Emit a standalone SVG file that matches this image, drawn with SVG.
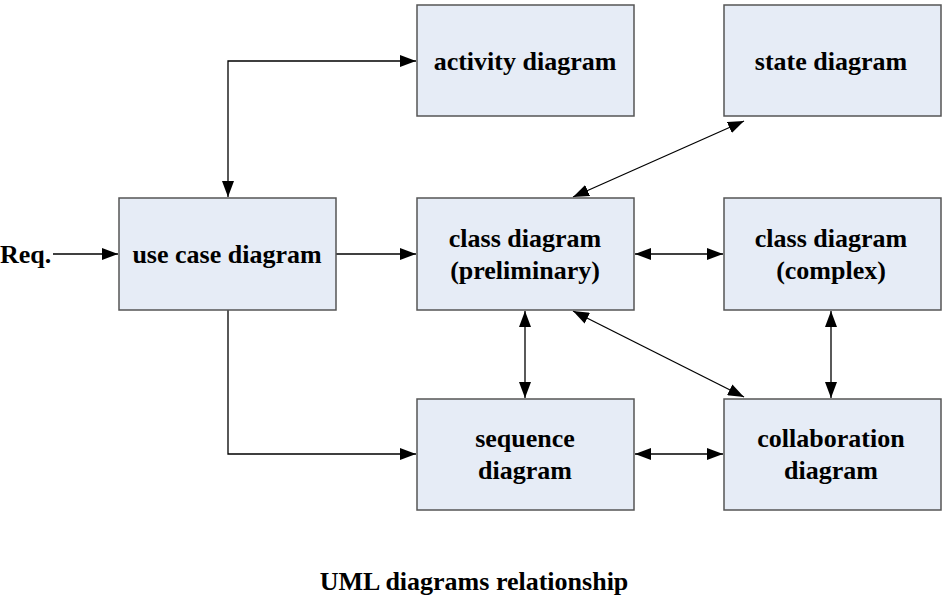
<svg xmlns="http://www.w3.org/2000/svg" width="944" height="596" viewBox="0 0 944 596">
<style>
.box{fill:#E6ECF6;stroke:#555;stroke-width:1.5}
.t{font-family:"Liberation Serif","Times New Roman",serif;font-weight:bold;font-size:26px;fill:#000;text-anchor:middle}
.c{fill:none;stroke:#000;stroke-width:1.3}
</style>
<defs>
<marker id="ah" viewBox="0 0 16 12" refX="16" refY="6" markerWidth="16" markerHeight="12" markerUnits="userSpaceOnUse" orient="auto-start-reverse">
<path d="M0,0 L16,6 L0,12 z" fill="#000"/>
</marker>
</defs>
<rect width="944" height="596" fill="#fff"/>
<g id="connectors">
<line class="c" x1="53" y1="254" x2="118" y2="254" marker-end="url(#ah)"/>
<polyline class="c" points="228,197 228,61 416,61" marker-start="url(#ah)" marker-end="url(#ah)"/>
<line class="c" x1="336" y1="254" x2="416" y2="254" marker-end="url(#ah)"/>
<polyline class="c" points="228,310 228,454 416,454" marker-end="url(#ah)"/>
<line class="c" x1="635" y1="254" x2="723" y2="254" marker-start="url(#ah)" marker-end="url(#ah)"/>
<line class="c" x1="573" y1="197" x2="744" y2="121" marker-start="url(#ah)" marker-end="url(#ah)"/>
<line class="c" x1="573" y1="311" x2="744" y2="397" marker-start="url(#ah)" marker-end="url(#ah)"/>
<line class="c" x1="525" y1="311" x2="525" y2="398" marker-start="url(#ah)" marker-end="url(#ah)"/>
<line class="c" x1="831" y1="311" x2="831" y2="398" marker-start="url(#ah)" marker-end="url(#ah)"/>
<line class="c" x1="635" y1="454" x2="723" y2="454" marker-start="url(#ah)" marker-end="url(#ah)"/>
</g>
<text class="t" x="0" y="263" style="text-anchor:start">Req.</text>
<g id="usecase"><rect class="box" x="119" y="198" width="217" height="112"/><text class="t" x="227" y="263">use case diagram</text></g>
<g id="activity"><rect class="box" x="417" y="5" width="217" height="111"/><text class="t" x="525" y="70">activity diagram</text></g>
<g id="state"><rect class="box" x="724" y="5" width="217" height="111"/><text class="t" x="831" y="70">state diagram</text></g>
<g id="classprelim"><rect class="box" x="417" y="198" width="217" height="112"/><text class="t" x="525" y="247">class diagram</text><text class="t" x="525" y="279">(preliminary)</text></g>
<g id="classcomplex"><rect class="box" x="724" y="198" width="217" height="112"/><text class="t" x="831" y="247">class diagram</text><text class="t" x="831" y="279">(complex)</text></g>
<g id="sequence"><rect class="box" x="417" y="399" width="217" height="111"/><text class="t" x="525" y="447">sequence</text><text class="t" x="525" y="479">diagram</text></g>
<g id="collab"><rect class="box" x="724" y="399" width="217" height="111"/><text class="t" x="831" y="447">collaboration</text><text class="t" x="831" y="479">diagram</text></g>
<text class="t" x="474" y="590">UML diagrams relationship</text>
</svg>
